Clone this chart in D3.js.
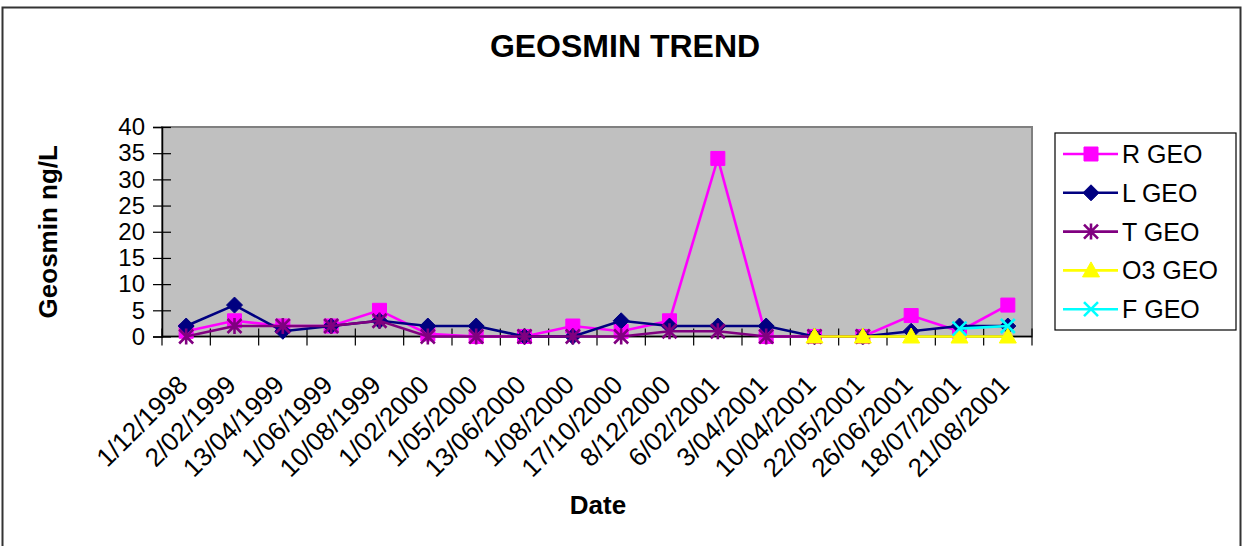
<!DOCTYPE html>
<html>
<head>
<meta charset="utf-8">
<script src="https://cdn.jsdelivr.net/npm/d3@7"></script>
<style>
  body { margin: 0; background: #fff; }
  svg { display: block; font-family: "Liberation Sans", Arial, sans-serif; }
</style>
</head>
<body>
<div id="chart"></div>
<script>
// data
var dates = ["1/12/1998", "2/02/1999", "13/04/1999", "1/06/1999", "10/08/1999", "1/02/2000",
             "1/05/2000", "13/06/2000", "1/08/2000", "17/10/2000", "8/12/2000", "6/02/2001",
             "3/04/2001", "10/04/2001", "22/05/2001", "26/06/2001", "18/07/2001", "21/08/2001"];
var rGeo  = [1, 3, 2, 2, 5, 0.5, 0, 0, 2, 1, 3, 34, 0, 0, 0, 4, 1, 6];
var lGeo  = [2, 6, 1, 2, 3, 2, 2, 0, 0, 3, 2, 2, 2, 0, 0, 1, 2, 2];
var tGeo  = [0, 2, 2, 2, 3, 0, 0, 0, 0, 0, 1, 1, 0, 0, 0, null, null, null];
var o3Geo = [null, null, null, null, null, null, null, null, null, null, null, null, null, 0, 0, 0, 0, 0];
var fGeo  = [null, null, null, null, null, null, null, null, null, null, null, null, null, null, null, null, 1.5, 2];
var yTicks = [0, 5, 10, 15, 20, 25, 30, 35, 40];

var series = [
  { name: "R GEO",  values: rGeo,  color: "#FF00FF", marker: "square" },
  { name: "L GEO",  values: lGeo,  color: "#000080", marker: "diamond" },
  { name: "T GEO",  values: tGeo,  color: "#800080", marker: "star" },
  { name: "O3 GEO", values: o3Geo, color: "#FFFF00", marker: "triangle" },
  { name: "F GEO",  values: fGeo,  color: "#00FFFF", marker: "cross" }
];

var W = 1242, H = 546;
var plot = { left: 162, right: 1032, top: 127, bottom: 336.5 };

var svg = d3.select("#chart").append("svg")
  .attr("width", W).attr("height", H);

// outer frame
svg.append("rect")
  .attr("x", 2.5).attr("y", 7.5).attr("width", W - 4).attr("height", H)
  .attr("fill", "#fff").attr("stroke", "#333").attr("stroke-width", 2);

svg.append("text")
  .attr("x", 625).attr("y", 57)
  .attr("text-anchor", "middle")
  .attr("font-size", 32).attr("font-weight", "bold")
  .text("GEOSMIN TREND");

var x = d3.scaleBand().domain(dates).range([plot.left, plot.right]).padding(0);
var y = d3.scaleLinear().domain([0, 40]).range([plot.bottom, plot.top]);

// plot area
svg.append("rect")
  .attr("x", plot.left).attr("y", plot.top)
  .attr("width", plot.right - plot.left).attr("height", plot.bottom - plot.top)
  .attr("fill", "#C0C0C0").attr("stroke", "#808080").attr("stroke-width", 2);

// y axis
var yAxis = svg.append("g")
  .attr("transform", "translate(" + plot.left + ",0)")
  .call(d3.axisLeft(y).tickValues(yTicks).tickSize(9).tickPadding(8));
yAxis.select(".domain").attr("stroke", "#000").attr("stroke-width", 1.5);
yAxis.selectAll(".tick line").attr("x1", 9).attr("stroke", "#000").attr("stroke-width", 1.2);
yAxis.selectAll(".tick text")
  .attr("font-size", 24).attr("fill", "#000")
  .attr("font-family", "Liberation Sans, Arial, sans-serif");

// x axis line + cross ticks at category boundaries
svg.append("line")
  .attr("x1", plot.left).attr("x2", plot.right)
  .attr("y1", y(0)).attr("y2", y(0))
  .attr("stroke", "#000").attr("stroke-width", 1.5);

var bounds = dates.map(function(d) { return x(d); }).concat([plot.right]);
svg.append("g").selectAll("line")
  .data(bounds)
  .join("line")
  .attr("x1", function(d) { return d; }).attr("x2", function(d) { return d; })
  .attr("y1", y(0) - 8).attr("y2", y(0) + 9)
  .attr("stroke", "#000").attr("stroke-width", 1.2);

svg.append("g").selectAll("text")
  .data(dates)
  .join("text")
  .attr("transform", function(d) {
    return "translate(" + (x(d) + x.bandwidth() / 2 + 3) + "," + (y(0) + 50) + ") rotate(-45)";
  })
  .attr("text-anchor", "end")
  .attr("font-size", 26)
  .text(function(d) { return d; });

// axis titles
svg.append("text")
  .attr("transform", "translate(57," + ((plot.top + plot.bottom) / 2) + ") rotate(-90)")
  .attr("text-anchor", "middle")
  .attr("font-size", 26).attr("font-weight", "bold")
  .text("Geosmin ng/L");

svg.append("text")
  .attr("x", 598).attr("y", 514)
  .attr("text-anchor", "middle")
  .attr("font-size", 26).attr("font-weight", "bold")
  .text("Date");

function markerPath(type) {
  var s = 7;
  if (type == "square") return "M-7,-7H7V7H-7Z";
  if (type == "diamond") return "M0,-8L8,0L0,8L-8,0Z";
  if (type == "triangle") return "M0,-8.5L8.5,6.5L-8.5,6.5Z";
  if (type == "star") return "M-" + s + ",-" + s + "L" + s + "," + s + "M-" + s + "," + s + "L" + s + ",-" + s + "M0,-" + (s + 1) + "L0," + (s + 1);
  return "M-" + s + ",-" + s + "L" + s + "," + s + "M-" + s + "," + s + "L" + s + ",-" + s;
}
function isStroke(type) { return type == "star" || type == "cross"; }

var line = d3.line()
  .defined(function(d) { return d != null; })
  .x(function(d, i) { return x(dates[i]) + x.bandwidth() / 2; })
  .y(function(d) { return y(d); });

series.forEach(function(s) {
  var g = svg.append("g");
  g.append("path")
    .datum(s.values)
    .attr("fill", "none")
    .attr("stroke", s.color)
    .attr("stroke-width", 2.6)
    .attr("d", line);
  g.selectAll("path.m")
    .data(s.values.map(function(v, i) { return { v: v, d: dates[i] }; }).filter(function(p) { return p.v != null; }))
    .join("path")
    .attr("class", "m")
    .attr("transform", function(p) { return "translate(" + (x(p.d) + x.bandwidth() / 2) + "," + y(p.v) + ")"; })
    .attr("d", markerPath(s.marker))
    .attr("fill", isStroke(s.marker) ? "none" : s.color)
    .attr("stroke", s.color)
    .attr("stroke-width", isStroke(s.marker) ? 2.6 : 1);
});

// legend
var lg = svg.append("g");
lg.append("rect")
  .attr("x", 1055).attr("y", 133).attr("width", 181).attr("height", 197)
  .attr("fill", "#fff").attr("stroke", "#000").attr("stroke-width", 1.2);

var items = lg.selectAll("g.item")
  .data(series)
  .join("g")
  .attr("class", "item")
  .attr("transform", function(d, i) { return "translate(0," + (154 + i * 38.8) + ")"; });
items.append("line")
  .attr("x1", 1063).attr("x2", 1118)
  .attr("stroke", function(d) { return d.color; })
  .attr("stroke-width", 2.6);
items.append("path")
  .attr("transform", "translate(1091,0)")
  .attr("d", function(d) { return markerPath(d.marker); })
  .attr("fill", function(d) { return isStroke(d.marker) ? "none" : d.color; })
  .attr("stroke", function(d) { return d.color; })
  .attr("stroke-width", function(d) { return isStroke(d.marker) ? 2.6 : 1; });
items.append("text")
  .attr("x", 1122).attr("dy", "0.36em")
  .attr("font-size", 25)
  .text(function(d) { return d.name; });
</script>
</body>
</html>
